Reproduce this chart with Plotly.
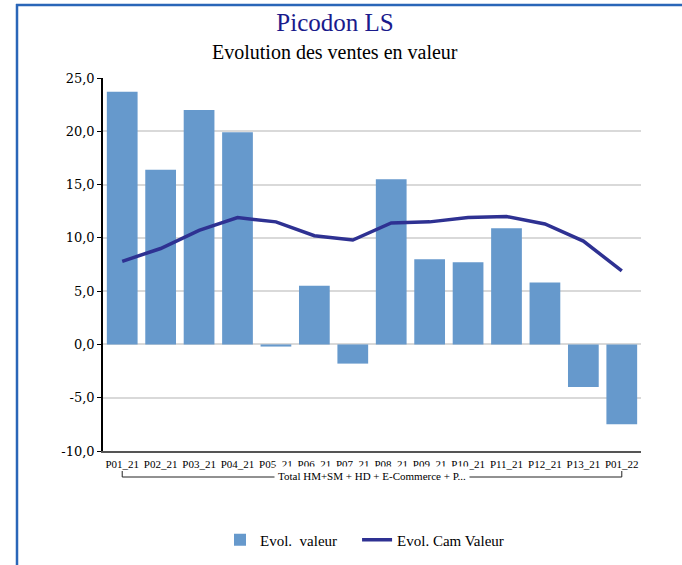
import plotly.graph_objects as go

categories = ["P01_21", "P02_21", "P03_21", "P04_21", "P05_21", "P06_21", "P07_21",
              "P08_21", "P09_21", "P10_21", "P11_21", "P12_21", "P13_21", "P01_22"]
evol_valeur = [23.7, 16.4, 22.0, 19.9, -0.2, 5.5, -1.8, 15.5, 8.0, 7.7, 10.9, 5.8, -4.0, -7.5]
evol_cam_valeur = [7.8, 9.0, 10.7, 11.9, 11.5, 10.2, 9.8, 11.4, 11.5, 11.9, 12.0, 11.3, 9.7, 6.9]
y_tick_values = [-10, -5, 0, 5, 10, 15, 20, 25]
y_tick_labels = ["-10,0", "-5,0", "0,0", "5,0", "10,0", "15,0", "20,0", "25,0"]
group_label = "Total HM+SM + HD + E-Commerce + P..."
title = "Picodon LS"
subtitle = "Evolution des ventes en valeur"

SERIF = "Liberation Serif"
PAD = "\u00a0" * 4  # trailing spacing in the legend entry

fig = go.Figure()
fig.add_trace(go.Bar(x=categories, y=evol_valeur, name="Evol.\u00a0 valeur" + PAD,
                     marker=dict(color="#6699cc", line=dict(width=0))))
fig.add_trace(go.Scatter(x=categories, y=evol_cam_valeur, name="Evol. Cam Valeur",
                         mode="lines", line=dict(color="#2e3192", width=3.5)))

# plot area: x 103..641, y 78..451 in a 682x565 page
W, H = 682, 565
L, R, T, B = 103, W - 641, 78, H - 451
PW, PH = W - L - R, H - T - B

def px(X):
    return (X - L) / PW

def py(Y):
    return (H - B - Y) / PH

shapes = [
    # outer frame (blue), extends off the right/bottom of the page
    dict(type="line", xref="paper", yref="paper", x0=px(16), x1=px(700), y0=py(5), y1=py(5),
         line=dict(color="#2a66b8", width=2.5)),
    dict(type="line", xref="paper", yref="paper", x0=px(17), x1=px(17), y0=py(4), y1=py(580),
         line=dict(color="#2a66b8", width=2.5)),
    # grouping bracket under the category labels
    dict(type="line", xref="x", yref="paper", x0=categories[0], x1=categories[-1],
         y0=py(477), y1=py(477), line=dict(color="#222222", width=1)),
    dict(type="line", xref="x", yref="paper", x0=categories[0], x1=categories[0],
         y0=py(477), y1=py(471), line=dict(color="#222222", width=1)),
    dict(type="line", xref="x", yref="paper", x0=categories[-1], x1=categories[-1],
         y0=py(477), y1=py(471), line=dict(color="#222222", width=1)),
]

annotations = [
    dict(text=subtitle, xref="paper", yref="paper", x=px(335), y=py(52), showarrow=False,
         xanchor="center", yanchor="middle", font=dict(family=SERIF, size=20, color="#000000")),
    dict(text=group_label, xref="paper", yref="paper", x=px(372), y=py(476), showarrow=False,
         xanchor="center", yanchor="middle", bgcolor="#ffffff", borderpad=3,
         font=dict(family=SERIF, size=11, color="#000000")),
]

fig.update_layout(
    width=W, height=H,
    margin=dict(l=L, r=R, t=T, b=B, autoexpand=False),
    paper_bgcolor="#ffffff", plot_bgcolor="#ffffff",
    title=dict(text=title, x=335 / W, xref="container", xanchor="center",
               y=1 - 22 / H, yref="container", yanchor="middle",
               font=dict(family=SERIF, size=25, color="#1a1a8c")),
    bargap=0.2,
    showlegend=True,
    legend=dict(orientation="h", x=px(220), xanchor="left", y=py(540), yanchor="middle",
                font=dict(family=SERIF, size=15, color="#000000"),
                itemwidth=30, bgcolor="rgba(0,0,0,0)"),
    shapes=shapes,
    annotations=annotations,
)

fig.update_yaxes(range=[-10, 25], tickvals=y_tick_values, ticktext=y_tick_labels,
                 showgrid=True, gridcolor="#d9d9d9", gridwidth=1.5,
                 zeroline=False, showline=True, linecolor="#000000", linewidth=1.5,
                 ticks="outside", ticklen=4, tickcolor="#000000",
                 tickfont=dict(family="DejaVu Serif", size=13, color="#000000"))
fig.update_xaxes(type="category", showline=True, linecolor="#555555", linewidth=1.5,
                 showgrid=False, ticks="", ticklabelstandoff=2,
                 tickfont=dict(family=SERIF, size=11, color="#000000"))

fig.write_html("out.html", config={"displayModeBar": False},
               post_script="document.body.style.margin='0';")
